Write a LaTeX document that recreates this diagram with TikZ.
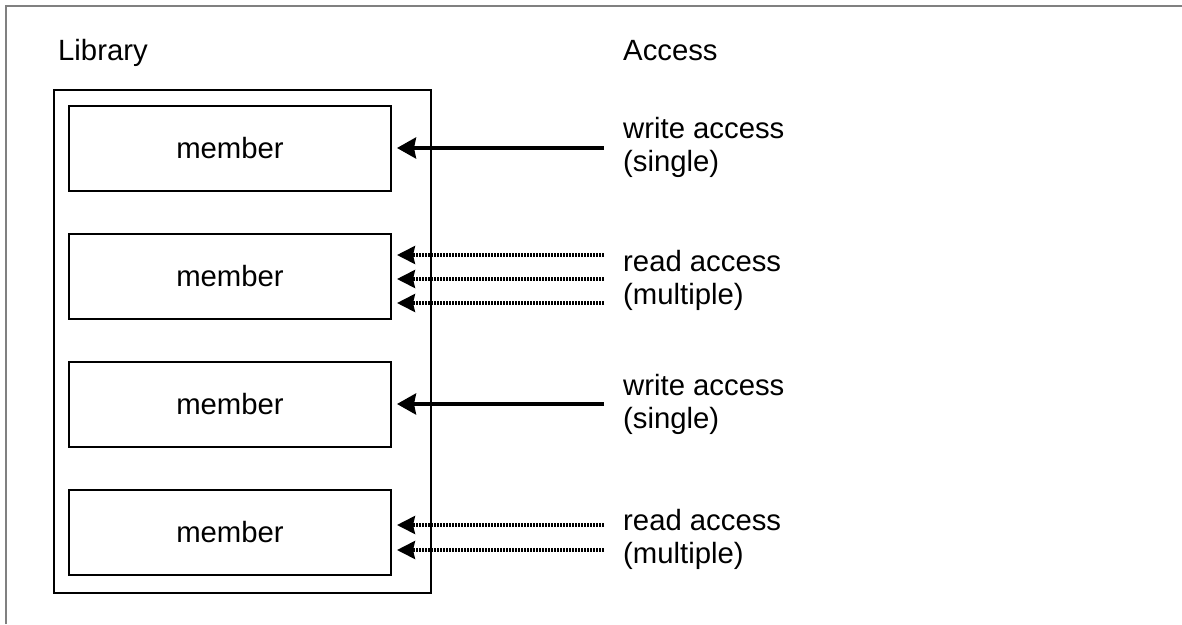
\documentclass[tikz,border=0pt]{standalone}
\usepackage{fontspec}
\setmainfont{Liberation Sans}
\usetikzlibrary{arrows.meta,calc,positioning}
\tikzset{
	member/.style={draw, line width=2pt, minimum width=322pt, minimum height=85pt, inner sep=0pt, outer sep=0pt},
	libbox/.style={draw, line width=2pt, minimum width=377pt, minimum height=503pt, inner sep=0pt, outer sep=0pt},
	writearrow/.style={line width=3.5pt, -{Stealth[length=19pt, width=21pt, inset=2pt]}, shorten >=6pt},
	readarrow/.style={line width=3.2pt, dash pattern=on 2pt off 1pt, -{Stealth[length=18pt, width=18pt, inset=2pt]}, shorten >=6pt},
	accesstext/.style={anchor=west, inner sep=0pt, align=left},
	titletext/.style={anchor=base west, inner sep=0pt}
}

\begin{document}
\begin{tikzpicture}[x=1pt, y=-1pt, font=\fontsize{29.3pt}{33pt}\selectfont]
	%%%%% START %%%%%
	\useasboundingbox (0,0) rectangle (1182,624);
	\draw[line width=1.5pt, color=black!50] (6,624) -- (6,6) -- (1182,6);

	\node[titletext] (libtitle) at (58,60) {Library};
	\node[titletext] (acctitle) at (623,60) {Access};

	\node[libbox] (library) at (242.5,341.5) {};

	\node[member] (m1) at (230,148.5) {member};
	\node[member, below=43pt of m1] (m2) {member};
	\node[member, below=43pt of m2] (m3) {member};
	\node[member, below=43pt of m3] (m4) {member};

	% write access
	\coordinate (w1) at (604,148);
	\draw[writearrow] (w1) -- (w1 -| m1.east);
	\node[accesstext] (t1) at (623,147) {write access\\(single)};

	\coordinate (w3) at (604,404);
	\draw[writearrow] (w3) -- (w3 -| m3.east);
	\node[accesstext] (t3) at (623,404) {write access\\(single)};

	% read access
	\foreach \y [count=\i] in {255,279,303}{
		\coordinate (r2\i) at (604,\y);
		\draw[readarrow] (r2\i) -- (r2\i -| m2.east);
	}
	\node[accesstext] (t2) at (623,280) {read access\\(multiple)};

	\foreach \y [count=\i] in {525,550}{
		\coordinate (r4\i) at (604,\y);
		\draw[readarrow] (r4\i) -- (r4\i -| m4.east);
	}
	\node[accesstext] (t4) at (623,539) {read access\\(multiple)};
	%%%%% END %%%%%
\end{tikzpicture}
\end{document}
